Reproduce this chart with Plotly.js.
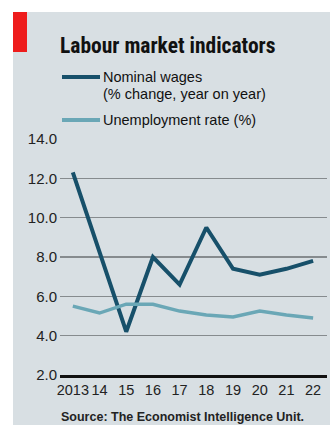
<!DOCTYPE html>
<html>
<head>
<meta charset="utf-8">
<script src="https://cdn.plot.ly/plotly-3.0.1.min.js"></script>
<style>html,body{margin:0;padding:0;background:#fff;}#chart{width:330px;height:425px;}</style>
</head>
<body>
<div id="chart"></div>
<script>
var years = [2013, 2014, 2015, 2016, 2017, 2018, 2019, 2020, 2021, 2022];
var xTickLabels = ["2013", "14", "15", "16", "17", "18", "19", "20", "21", "22"];
var nominalWages = [12.3, 8.3, 4.2, 8.0, 6.6, 9.5, 7.4, 7.1, 7.4, 7.8];
var unemploymentRate = [5.5, 5.15, 5.6, 5.6, 5.25, 5.05, 4.95, 5.25, 5.05, 4.9];
var yTicks = [2, 4, 6, 8, 10, 12, 14];
var seriesNames = ["Nominal wages", "Unemployment rate (%)"];
var wagesSubtitle = "(% change, year on year)";

var NARROW = "'Liberation Sans Narrow', 'Arial Narrow', 'Roboto Condensed', sans-serif";
var SANS = "'Liberation Sans', Arial, Roboto, sans-serif";
var WAGE_COL = '#17506a', UNEMP_COL = '#6aa7b6';

// pixel -> paper helpers (plot area: x 60..327, y 139..375)
function px(x) { return (x - 60) / 267; }
function py(y) { return 1 + (139 - y) / 236; }

var traces = [
  {x: years, y: nominalWages, type: 'scatter', mode: 'lines', name: seriesNames[0],
   line: {color: WAGE_COL, width: 4}},
  {x: years, y: unemploymentRate, type: 'scatter', mode: 'lines', name: seriesNames[1],
   line: {color: UNEMP_COL, width: 3.5}}
];

var legFont = {family: SANS, size: 14.5, color: '#111'};

var layout = {
  width: 330, height: 425,
  margin: {l: 60, r: 3, t: 139, b: 50},
  paper_bgcolor: '#ffffff',
  plot_bgcolor: 'rgba(0,0,0,0)',
  font: {family: SANS, color: '#1a1a1a'},
  title: {text: '<b>Labour market indicators</b>', font: {family: NARROW, size: 21.5, color: '#111'},
          x: 60/330, xref: 'container', xanchor: 'left', y: 1 - 45.5/425, yref: 'container', yanchor: 'middle'},
  showlegend: false,
  xaxis: {range: [2012.52, 2022.52], tickvals: years, ticktext: xTickLabels, ticks: '', showgrid: false,
          zeroline: false, showline: true, linecolor: '#111', linewidth: 3,
          tickfont: {family: SANS, size: 14.5, color: '#222'}, fixedrange: true},
  yaxis: {range: [2, 14], tickvals: yTicks, tickformat: '.1f', ticks: '', showgrid: true,
          gridcolor: '#868b8e', gridwidth: 1.5, zeroline: false, showline: false,
          tickfont: {family: SANS, size: 15, color: '#222'}, ticklabelstandoff: 2, fixedrange: true},
  shapes: [
    {type: 'rect', xref: 'paper', yref: 'paper', x0: px(13), x1: px(340), y0: py(440), y1: py(12),
     fillcolor: '#d8dfe3', line: {width: 0}, layer: 'below'},
    {type: 'rect', xref: 'paper', yref: 'paper', x0: px(13), x1: px(27), y0: py(52), y1: py(12),
     fillcolor: '#ee1c1c', line: {width: 0}, layer: 'below'},
    {type: 'line', xref: 'paper', yref: 'paper', x0: px(62), x1: px(100), y0: py(77), y1: py(77),
     line: {color: WAGE_COL, width: 4}},
    {type: 'line', xref: 'paper', yref: 'paper', x0: px(62), x1: px(100), y0: py(120), y1: py(120),
     line: {color: UNEMP_COL, width: 4}}
  ],
  annotations: [
    {text: seriesNames[0], xref: 'paper', yref: 'paper', x: px(101), y: py(77.3),
     xanchor: 'left', yanchor: 'middle', showarrow: false, font: legFont},
    {text: wagesSubtitle, xref: 'paper', yref: 'paper', x: px(101), y: py(94.3),
     xanchor: 'left', yanchor: 'middle', showarrow: false, font: legFont},
    {text: seriesNames[1], xref: 'paper', yref: 'paper', x: px(101), y: py(120),
     xanchor: 'left', yanchor: 'middle', showarrow: false, font: legFont},
    {text: '<b>Source: The Economist Intelligence Unit.</b>', xref: 'paper', yref: 'paper',
     x: px(182), y: py(417), xanchor: 'center', yanchor: 'middle', showarrow: false,
     font: {family: SANS, size: 12.5, color: '#222'}}
  ]
};

Plotly.newPlot('chart', traces, layout, {displayModeBar: false, staticPlot: true});
</script>
</body>
</html>
